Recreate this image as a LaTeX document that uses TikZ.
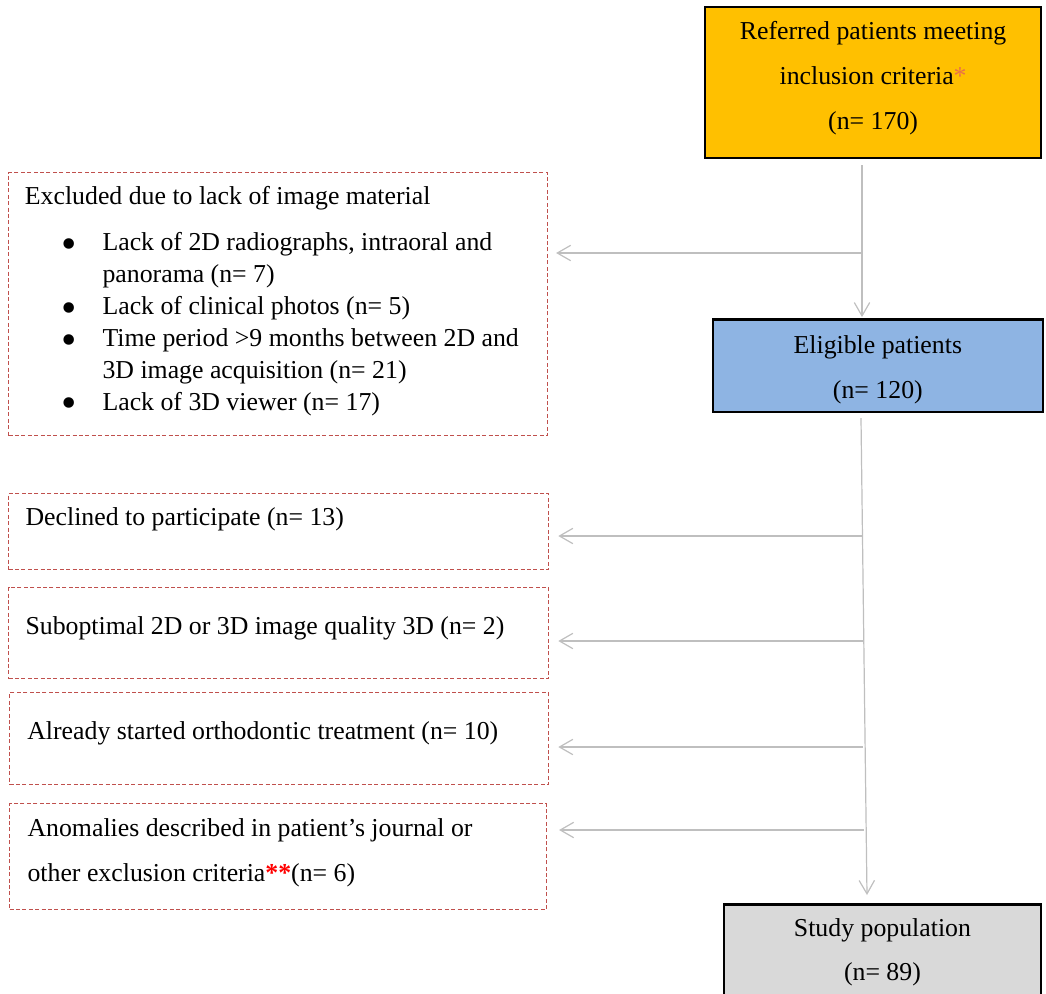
\documentclass[tikz,border=0pt]{standalone}
\usepackage{fontspec}
\setmainfont{Liberation Serif}
\usetikzlibrary{arrows.meta}

\definecolor{inclorange}{HTML}{FFC000}
\definecolor{eligblue}{HTML}{8EB4E3}
\definecolor{studygray}{HTML}{D9D9D9}
\definecolor{exclred}{HTML}{C0504D}
\definecolor{flowgray}{HTML}{BFBFBF}
\definecolor{starorange}{HTML}{E8704A}

\newcommand{\exclitem}{\hspace*{18.4pt}\makebox[20.4pt][l]{\raisebox{-3.9pt}[0pt][0pt]{\scalebox{1.7}{\textbullet}}}}
\newcommand{\exclcont}{\hspace*{38.8pt}}

\begin{document}
\begin{tikzpicture}[x=0.5pt, y=-0.5pt,
    font=\fontsize{12.9}{22.4}\selectfont,
    execute at begin node={\spaceskip=0pt\xspaceskip=0pt\relax},
    mainbox/.style={draw=black, line width=1.1pt, anchor=north west, align=flush center, inner sep=0pt, text height=9pt},
    exclbox/.style={draw=exclred, line width=0.55pt, dash pattern=on 2pt off 1.2pt, anchor=north west, align=flush left, inner ysep=0pt, text height=9pt},
    flowline/.style={draw=flowgray, line width=0.6pt, -{Straight Barb[length=6.7pt, width=7.7pt]}}]
    \useasboundingbox (0,0) rectangle (1046,993);

    % Main boxes
    \node[mainbox, fill=inclorange, text width=168pt, minimum height=75.35pt, text depth=52.05pt] (referred) at (704,6)
        {Referred patients meeting\\ inclusion criteria\textcolor{starorange}{*}\\ (n= 170)};
    \node[mainbox, fill=eligblue, text width=165.25pt, minimum height=46.2pt, text depth=21.2pt] (eligible) at (711.5,318.3)
        {Eligible patients\\ (n= 120)};
    \node[mainbox, fill=studygray, text width=158.65pt, minimum height=45.85pt, text depth=23.15pt] (study) at (722.7,903.3)
        {Study population\\ (n= 89)};

    % Exclusion boxes
    \node[exclbox, text width=253.1pt, inner xsep=8.2pt, minimum height=131.5pt, text depth=108.8pt,
          font=\fontsize{12.9}{15.95}\selectfont] (lackimg) at (8,172)
        {Excluded due to lack of image material\\[7.25pt]
         \exclitem Lack of 2D radiographs, intraoral and\\
         \exclcont panorama (n= 7)\\
         \exclitem Lack of clinical photos (n= 5)\\
         \exclitem Time period >9 months between 2D and\\
         \exclcont 3D image acquisition (n= 21)\\
         \exclitem Lack of 3D viewer (n= 17)};
    \node[exclbox, text width=253pt, inner xsep=8.5pt, minimum height=38.15pt, text depth=15.15pt] (declined) at (8,493)
        {Declined to participate (n= 13)};
    \node[exclbox, text width=253pt, inner xsep=8.5pt, minimum height=45.65pt, text depth=7.35pt] (quality) at (8,586.7)
        {Suboptimal 2D or 3D image quality 3D (n= 2)};
    \node[exclbox, text width=251.7pt, inner xsep=8.9pt, minimum height=45.85pt, text depth=7.85pt] (started) at (9,692.3)
        {Already started orthodontic treatment (n= 10)};
    \node[exclbox, text width=250.5pt, inner xsep=9pt, minimum height=52.85pt, text depth=29.45pt] (anomalies) at (9,803.3)
        {Anomalies described in patient’s journal or\\
         other exclusion criteria\textcolor{red}{\textbf{**}}(n= 6)};

    % Main flow
    \coordinate (topsplit) at (862,165);
    \coordinate (midsplit) at (861,418);
    \coordinate (popin) at (867,895);
    \draw[flowline, shorten >=0.6pt] (topsplit) -- (topsplit |- eligible.north);
    \draw[flowline] (midsplit) -- (popin);

    % Exclusion arrows
    \coordinate (cut1) at (862,253);
    \coordinate (cut2) at (862,536);
    \coordinate (cut3) at (863,641);
    \coordinate (cut4) at (863,747);
    \coordinate (cut5) at (864,830);
    \draw[flowline, shorten >=4pt] (cut1) -- (cut1 -| lackimg.east);
    \draw[flowline, shorten >=4.6pt] (cut2) -- (cut2 -| declined.east);
    \draw[flowline, shorten >=4.6pt] (cut3) -- (cut3 -| quality.east);
    \draw[flowline, shorten >=4.6pt] (cut4) -- (cut4 -| started.east);
    \draw[flowline, shorten >=6pt] (cut5) -- (cut5 -| anomalies.east);
\end{tikzpicture}
\end{document}
